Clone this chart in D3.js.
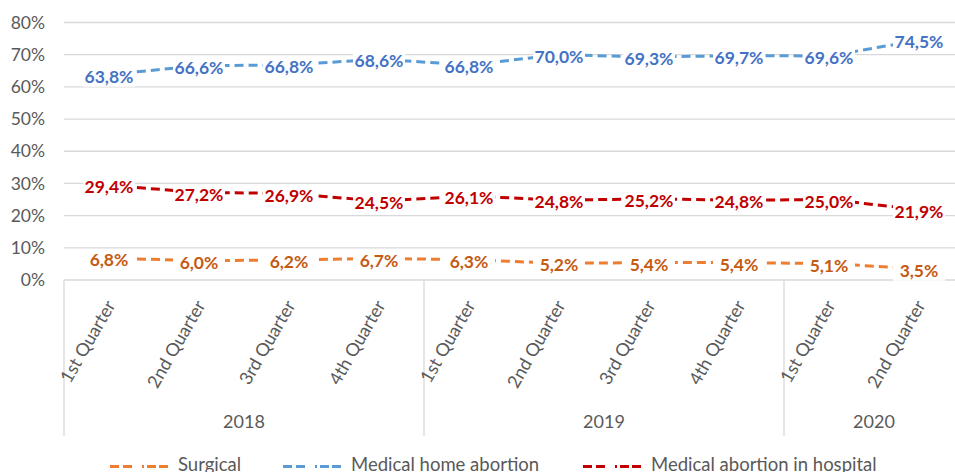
<!DOCTYPE html>
<html>
<head>
<meta charset="utf-8">
<script src="https://cdn.jsdelivr.net/npm/d3@7"></script>
<style>
  html, body { margin: 0; padding: 0; background: #fff; }
  svg { display: block; font-family: Lato, "Open Sans", sans-serif; }
</style>
</head>
<body>
<svg id="chart" width="955" height="472"></svg>
<script>
// quarters and years on the two-level x axis
const quarters = ['1st Quarter', '2nd Quarter', '3rd Quarter', '4th Quarter',
  '1st Quarter', '2nd Quarter', '3rd Quarter', '4th Quarter',
  '1st Quarter', '2nd Quarter'];
const years = ['2018', '2019', '2020'];
const quartersPerYear = [4, 4, 2];

// share of abortions (%)
const surgical = [6.8, 6.0, 6.2, 6.7, 6.3, 5.2, 5.4, 5.4, 5.1, 3.5];
const medicalHome = [63.8, 66.6, 66.8, 68.6, 66.8, 70.0, 69.3, 69.7, 69.6, 74.5];
const medicalHospital = [29.4, 27.2, 26.9, 24.5, 26.1, 24.8, 25.2, 24.8, 25.0, 21.9];

const yTicks = [0, 10, 20, 30, 40, 50, 60, 70, 80];

const series = [
  { name: 'Surgical', values: surgical, line: '#ED7D31', label: '#C55A11' },
  { name: 'Medical home abortion', values: medicalHome, line: '#5B9BD5', label: '#4472C4' },
  { name: 'Medical abortion in hospital', values: medicalHospital, line: '#C00000', label: '#C00000' },
];

const svg = d3.select('#chart');
const plotLeft = 64, plotW = 900, plotTop = 22.5, plotBottom = 280;

const x = d3.scaleBand()
  .domain(d3.range(quarters.length))
  .range([plotLeft, plotLeft + plotW]);

const y = d3.scaleLinear()
  .domain([0, 80])
  .range([plotBottom, plotTop]);

const comma = d3.formatLocale({ decimal: ',', thousands: '.', grouping: [3], currency: ['', ''] });
const pct = (v) => comma.format('.1f')(v) + '%';

// gridlines
svg.append('g')
  .selectAll('line')
  .data(yTicks)
  .enter()
  .append('line')
  .attr('x1', plotLeft)
  .attr('x2', plotLeft + plotW)
  .attr('y1', (d) => y(d))
  .attr('y2', (d) => y(d))
  .attr('stroke', '#d9d9d9')
  .attr('stroke-width', 1.3);

// y labels
svg.append('g')
  .selectAll('text')
  .data(yTicks)
  .enter()
  .append('text')
  .attr('x', 45)
  .attr('y', (d) => y(d))
  .attr('dy', '0.35em')
  .attr('text-anchor', 'end')
  .attr('fill', '#595959')
  .style('font-size', '17.5px')
  .text((d) => d + '%');

// year separators (also the outer edges of the axis)
let acc = 0;
const bounds = [0];
quartersPerYear.forEach((n) => { acc += n; bounds.push(acc); });
svg.append('g')
  .selectAll('line')
  .data(bounds)
  .enter()
  .append('line')
  .attr('x1', (d) => plotLeft + d * x.bandwidth())
  .attr('x2', (d) => plotLeft + d * x.bandwidth())
  .attr('y1', plotBottom)
  .attr('y2', 436)
  .attr('stroke', '#d9d9d9')
  .attr('stroke-width', 1.3);

// quarter labels, rotated
svg.append('g')
  .selectAll('text')
  .data(quarters)
  .enter()
  .append('text')
  .attr('transform', (d, i) => `translate(${x(i) + x.bandwidth() / 2 + 7},${plotBottom + 25}) rotate(-60)`)
  .attr('text-anchor', 'end')
  .attr('fill', '#595959')
  .style('font-size', '18px')
  .text((d) => d);

// year labels
svg.append('g')
  .selectAll('text')
  .data(years)
  .enter()
  .append('text')
  .attr('x', (d, i) => plotLeft + (bounds[i] + bounds[i + 1]) / 2 * x.bandwidth())
  .attr('y', 428)
  .attr('text-anchor', 'middle')
  .attr('fill', '#595959')
  .style('font-size', '18px')
  .text((d) => d);

// dashed lines
const line = d3.line()
  .x((d, i) => x(i) + x.bandwidth() / 2)
  .y((d) => y(d));

svg.append('g')
  .selectAll('path')
  .data(series)
  .enter()
  .append('path')
  .attr('d', (s) => line(s.values))
  .attr('fill', 'none')
  .attr('stroke', (s) => s.line)
  .attr('stroke-width', 3)
  .attr('stroke-dasharray', '9,5');

// data labels with white boxes behind them
const labelG = svg.append('g')
  .selectAll('g')
  .data(series)
  .enter()
  .append('g');

const lab = labelG.selectAll('g')
  .data((s) => s.values.map((v, i) => ({ v, i, s })))
  .enter()
  .append('g')
  .attr('transform', (d) => `translate(${x(d.i) + x.bandwidth() / 2},${y(d.v) + 2})`);

lab.append('rect')
  .attr('x', -26)
  .attr('y', -10)
  .attr('width', 52)
  .attr('height', 20)
  .attr('fill', '#fff');

lab.append('text')
  .attr('text-anchor', 'middle')
  .attr('dy', '0.35em')
  .attr('fill', (d) => d.s.label)
  .style('font-size', '17.5px')
  .style('font-weight', 'bold')
  .text((d) => pct(d.v));

// legend
const legendX = [110, 283, 583];
const leg = svg.append('g')
  .selectAll('g')
  .data(series)
  .enter()
  .append('g')
  .attr('transform', (d, i) => `translate(${legendX[i]},0)`);

leg.append('line')
  .attr('x1', 0)
  .attr('x2', 58)
  .attr('y1', 466.5)
  .attr('y2', 466.5)
  .attr('stroke', (d) => d.line)
  .attr('stroke-width', 3)
  .attr('stroke-dasharray', '9,4,9,10,2,3,9,3,9');

leg.append('text')
  .attr('x', 68)
  .attr('y', 471)
  .attr('fill', '#595959')
  .style('font-size', '18.5px')
  .text((d) => d.name);
</script>
</body>
</html>
